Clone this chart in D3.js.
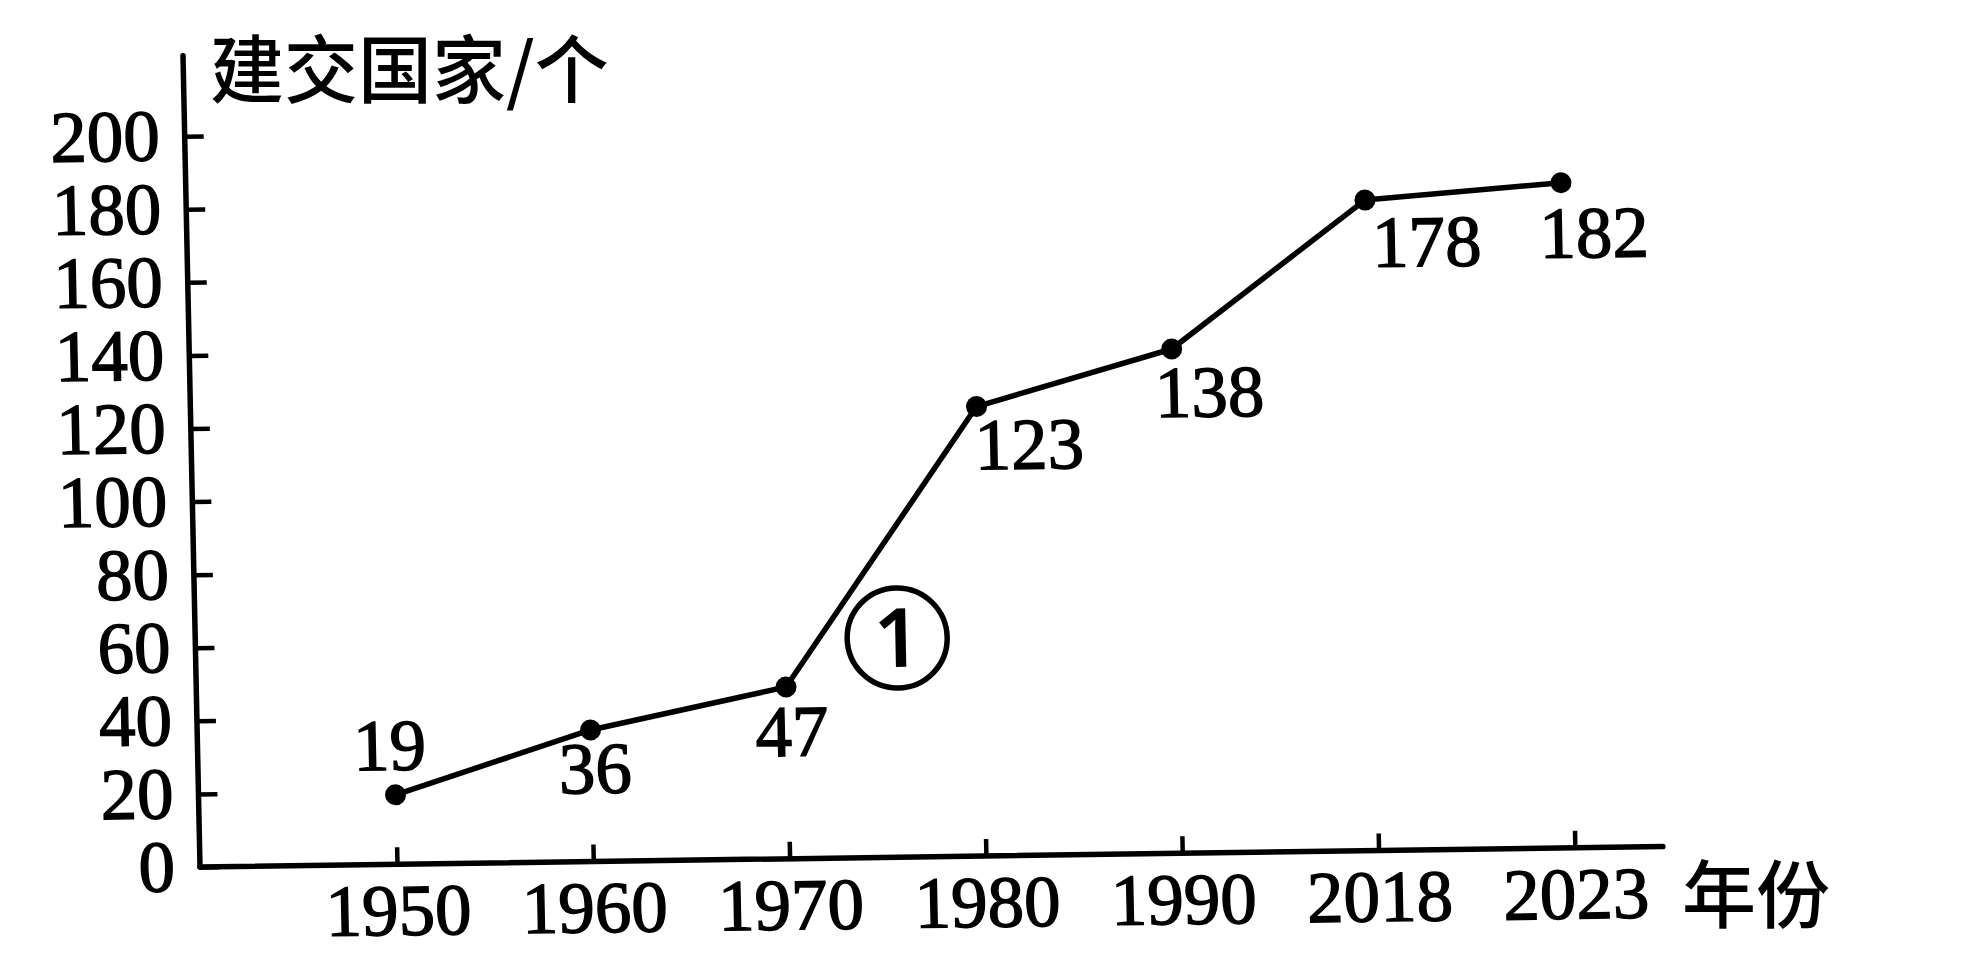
<!DOCTYPE html>
<html>
<head>
<meta charset="utf-8">
<script src="https://cdn.jsdelivr.net/npm/d3@7"></script>
<style>
body { margin: 0; background: #fff; }
.num { font-family: "Liberation Serif", "Times New Roman", serif; font-size: 73px; fill: #000; stroke: #000; stroke-width: 1.4px; }
.cjk { font-family: "Noto Sans CJK SC", sans-serif; font-size: 74px; font-weight: 500; fill: #000; }
</style>
</head>
<body>
<div id="chart-area"></div>
<script>
// data
var years = ["1950", "1960", "1970", "1980", "1990", "2018", "2023"];
var countries = [19, 36, 47, 123, 138, 178, 182];
var yTicks = [0, 20, 40, 60, 80, 100, 120, 140, 160, 180, 200];

// where each value label sits, relative to its dot [dx, dy]
var labelOffsets = [[-5, -25], [4, 63], [5, 69], [52, 63], [37, 68], [61, 67], [32, 75]];

var chartWidth = 1988,
    chartHeight = 980;

var svg = d3.select("#chart-area").append("svg")
    .attr("width", chartWidth)
    .attr("height", chartHeight)
    .style("background", "#fff");

// the drawing is a little tilted, like the scanned page
var g = svg.append("g")
    .attr("transform", "translate(200,867) rotate(-0.8) skewX(0.4)");

// scales
var x = d3.scalePoint()
    .domain(years)
    .range([197, 1375]);

var y = d3.scaleLinear()
    .domain([0, 200])
    .range([0, -731]);

// axes
var yAxis = d3.axisLeft(y)
    .tickValues(yTicks)
    .tickSizeInner(-19)
    .tickSizeOuter(0)
    .tickPadding(25);

var xAxis = d3.axisBottom(x)
    .tickSizeInner(-17)
    .tickSizeOuter(0)
    .tickPadding(19);

var yAxisGroup = g.append("g").attr("class", "y-axis axis").call(yAxis);
var xAxisGroup = g.append("g").attr("class", "x-axis axis").call(xAxis);

[yAxisGroup, xAxisGroup].forEach(function(ax) {
    ax.attr("font-size", null).attr("font-family", null);
    ax.select(".domain").remove();
    ax.selectAll(".tick line").attr("stroke", "#000").attr("stroke-width", 4.5);
    ax.selectAll(".tick text").attr("class", "num");
});

// axis lines
g.append("line")
    .attr("x1", 0).attr("y1", 0)
    .attr("x2", 1463).attr("y2", 0)
    .attr("stroke", "#000").attr("stroke-width", 5.5)
    .attr("stroke-linecap", "round");

g.append("line")
    .attr("x1", 0).attr("y1", 0)
    .attr("x2", 0).attr("y2", y(222))
    .attr("stroke", "#000").attr("stroke-width", 5.5)
    .attr("stroke-linecap", "round");

// the line
var line = d3.line()
    .x(function(d, i) { return x(years[i]); })
    .y(function(d) { return y(d); });

g.append("path")
    .datum(countries)
    .attr("class", "line")
    .attr("fill", "none")
    .attr("stroke", "#000")
    .attr("stroke-width", 5.5)
    .attr("stroke-linejoin", "round")
    .attr("d", line);

// dots
g.selectAll("circle.dot")
    .data(countries)
    .enter()
    .append("circle")
    .attr("class", "dot")
    .attr("cx", function(d, i) { return x(years[i]); })
    .attr("cy", function(d) { return y(d); })
    .attr("r", 10.5)
    .attr("fill", "#000");

// value labels
g.selectAll("text.value")
    .data(countries)
    .enter()
    .append("text")
    .attr("class", "value num")
    .attr("text-anchor", "middle")
    .attr("x", function(d, i) { return x(years[i]) + labelOffsets[i][0]; })
    .attr("y", function(d, i) { return y(d) + labelOffsets[i][1]; })
    .text(function(d) { return d; });

// circled mark between 1970 and 1980
var markX = (x("1970") + x("1980")) / 2 + 14,
    markY = y(60);

g.append("circle")
    .attr("cx", markX)
    .attr("cy", markY)
    .attr("r", 50)
    .attr("fill", "none")
    .attr("stroke", "#000")
    .attr("stroke-width", 5.5);

g.append("text")
    .attr("x", markX)
    .attr("y", markY + 29)
    .attr("text-anchor", "middle")
    .style("font-family", "'Noto Sans', sans-serif")
    .style("font-size", "82px")
    .style("font-weight", "600")
    .text("1");

// axis titles
svg.append("text")
    .attr("class", "cjk")
    .attr("x", 210)
    .attr("y", 97)
    .text("建交国家/个");

svg.append("text")
    .attr("class", "cjk")
    .attr("x", 1682)
    .attr("y", 922)
    .text("年份");
</script>
</body>
</html>
